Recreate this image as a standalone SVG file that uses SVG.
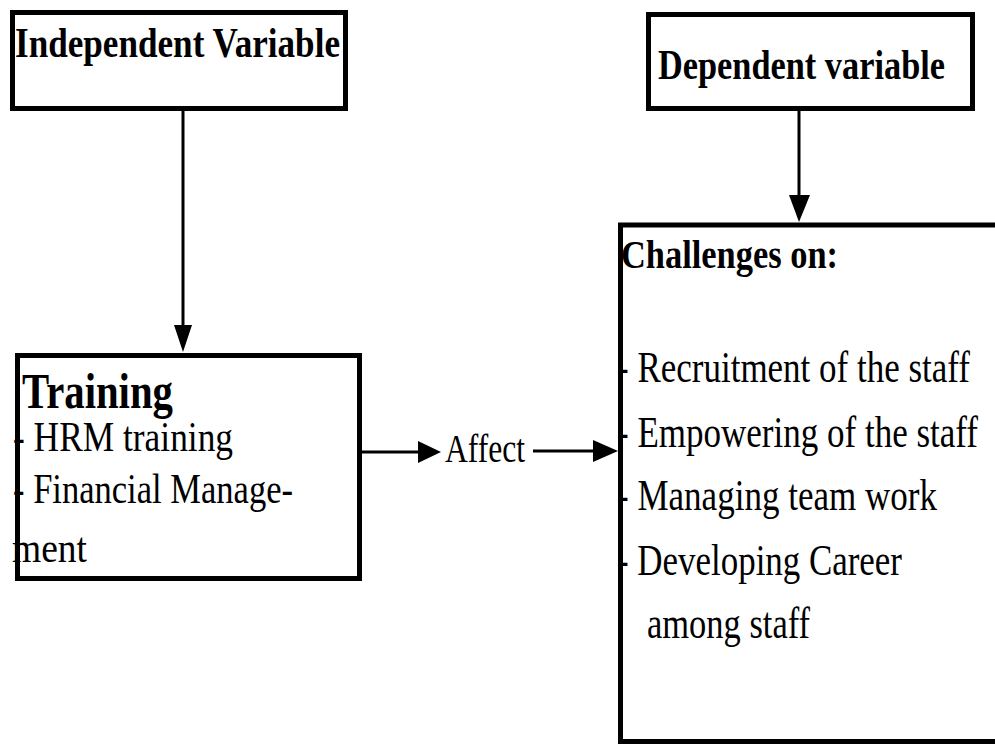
<svg xmlns="http://www.w3.org/2000/svg" width="995" height="745" viewBox="0 0 995 745">
<style>
.box{fill:#fff;stroke:#000;stroke-width:5}
.t{font-family:"Liberation Serif","Times New Roman",serif;fill:#000}
.b{font-weight:bold}
.con line{stroke:#000;stroke-width:3}
.con polygon{fill:#000}
</style>
<rect width="995" height="745" fill="#fff"/>
<g id="independent">
<rect class="box" x="12.5" y="12.5" width="333" height="96"/>
<text class="t b" x="15" y="57" font-size="43" textLength="325" lengthAdjust="spacingAndGlyphs">Independent Variable</text>
</g>
<g id="dependent">
<rect class="box" x="648.5" y="14.5" width="324" height="94"/>
<text class="t b" x="658" y="79" font-size="43" textLength="287" lengthAdjust="spacingAndGlyphs">Dependent variable</text>
</g>
<g id="training">
<rect class="box" x="17.5" y="355.5" width="342" height="223"/>
<text class="t b" x="22" y="408" font-size="51" textLength="151" lengthAdjust="spacingAndGlyphs">Training</text>
<text class="t" x="13" y="451" font-size="43" textLength="220" lengthAdjust="spacingAndGlyphs">- HRM training</text>
<text class="t" x="13" y="503" font-size="43" textLength="280" lengthAdjust="spacingAndGlyphs">- Financial Manage-</text>
<text class="t" x="12" y="562" font-size="43" textLength="75" lengthAdjust="spacingAndGlyphs">ment</text>
</g>
<g id="challenges">
<rect class="box" x="620.5" y="225" width="400" height="516.5"/>
<text class="t b" x="621" y="268" font-size="40" textLength="217" lengthAdjust="spacingAndGlyphs">Challenges on:</text>
<text class="t" x="617" y="382" font-size="44" textLength="353" lengthAdjust="spacingAndGlyphs">- Recruitment of the staff</text>
<text class="t" x="617" y="447" font-size="44" textLength="361" lengthAdjust="spacingAndGlyphs">- Empowering of the staff</text>
<text class="t" x="617" y="510" font-size="44" textLength="320" lengthAdjust="spacingAndGlyphs">- Managing team work</text>
<text class="t" x="617" y="575" font-size="44" textLength="285" lengthAdjust="spacingAndGlyphs">- Developing Career</text>
<text class="t" x="647" y="638" font-size="44" textLength="163" lengthAdjust="spacingAndGlyphs">among staff</text>
</g>
<g id="connectors" class="con">
<line x1="183" y1="110" x2="183" y2="330"/>
<polygon points="174,325 192,325 183,352"/>
<line x1="799" y1="111" x2="799" y2="198"/>
<polygon points="789,195 810,195 799,222"/>
<line x1="362" y1="452" x2="422" y2="452"/>
<polygon points="418,441 418,463 441,452"/>
<text class="t" x="445" y="462" font-size="41" textLength="80" lengthAdjust="spacingAndGlyphs">Affect</text>
<line x1="533" y1="451" x2="596" y2="451"/>
<polygon points="593,440 593,462 618,451"/>
</g>
</svg>
